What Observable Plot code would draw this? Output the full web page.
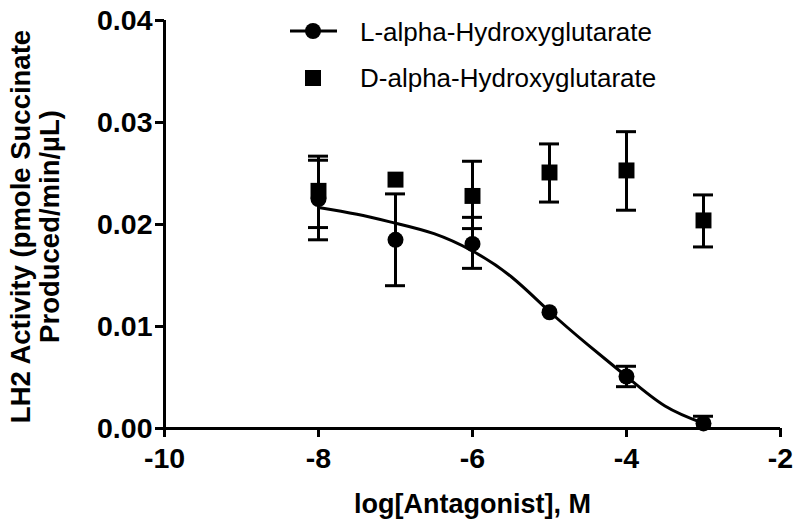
<!DOCTYPE html>
<html>
<head>
<meta charset="utf-8">
<script src="https://cdn.jsdelivr.net/npm/d3@7"></script>
<script src="https://cdn.jsdelivr.net/npm/@observablehq/plot@0.6"></script>
<style>
  html, body { margin: 0; padding: 0; background: #fff; }
  #wrap { position: relative; width: 800px; height: 529px; font-family: Arial, "Liberation Sans", sans-serif; }
  #legend { position: absolute; left: 0; top: 0; pointer-events: none; }
</style>
</head>
<body>
<div id="wrap"></div>
<script>
// ---- data ----
const doses = [-8, -7, -6, -5, -4, -3];

// L-alpha-Hydroxyglutarate: mean and error-bar ends (null = bar hidden behind the marker)
const lMean = [0.0225, 0.0185, 0.0181, 0.0114, 0.0051, 0.0005];
const lLow  = [0.0185, 0.0140, 0.0157, null,   0.0041, 0.0000];
const lHigh = [0.0263, 0.0230, 0.0207, null,   0.0061, 0.0012];

// D-alpha-Hydroxyglutarate
const dMean = [0.0233, 0.0244, 0.0228, 0.0251, 0.0253, 0.0204];
const dLow  = [0.0197, null,   0.0196, 0.0222, 0.0214, 0.0178];
const dHigh = [0.0267, null,   0.0262, 0.0279, 0.0291, 0.0229];

// fitted curve for L-alpha-Hydroxyglutarate
const fitX = [-8, -7.5, -7, -6.5, -6, -5.5, -5, -4.5, -4, -3.5, -3];
const fitY = [0.02167, 0.0210, 0.02013, 0.0191, 0.0174, 0.0149, 0.01147, 0.0082, 0.0051, 0.0022, 0.0005];

const xTicks = [-10, -8, -6, -4, -2];
const yTicks = [0, 0.01, 0.02, 0.03, 0.04];

const seriesNames = ["L-alpha-Hydroxyglutarate", "D-alpha-Hydroxyglutarate"];
const xTitle = "log[Antagonist], M";
const yTitle = "LH2 Activity (pmole Succinate\nProduced/min/\u00B5L)";

// ---- build tables ----
const L = doses.map((x, i) => ({x, y: lMean[i], lo: lLow[i], hi: lHigh[i]}));
const D = doses.map((x, i) => ({x, y: dMean[i], lo: dLow[i], hi: dHigh[i]}));
const Lerr = L.filter(d => d.lo != null);
const Derr = D.filter(d => d.lo != null);
const fit = fitX.map((x, i) => ({x, y: fitY[i]}));
const cap = 0.13; // half cap width in x units

const font = 'Arial, "Liberation Sans", sans-serif';

const chart = Plot.plot({
  width: 800,
  height: 529,
  marginLeft: 164,
  marginRight: 20,
  marginTop: 20,
  marginBottom: 101,
  x: {domain: [-10, -2]},
  y: {domain: [0, 0.04]},
  style: {fontFamily: font, background: "#fff", color: "#000", overflow: "visible"},
  marks: [
    Plot.axisY({ticks: yTicks, tickFormat: d3.format(".2f"), tickSize: 9, tickPadding: 3,
      fontSize: 28.5, fontWeight: "bold", strokeWidth: 3, label: null}),
    Plot.axisX({ticks: xTicks, tickFormat: d => String(d), tickSize: 9, tickPadding: 10,
      fontSize: 28.5, fontWeight: "bold", strokeWidth: 3, label: null}),
    Plot.ruleX([-10], {strokeWidth: 3}),
    Plot.ruleY([0], {strokeWidth: 3}),
    Plot.text([xTitle], {frameAnchor: "bottom", dy: 76, fontSize: 27, fontWeight: "bold", lineAnchor: "middle"}),
    Plot.text([yTitle], {frameAnchor: "left", dx: -129, dy: 2, rotate: -90, fontSize: 27.5, fontWeight: "bold",
      lineAnchor: "middle", textAnchor: "middle", lineHeight: 1.05}),
    // fitted curve
    Plot.line(fit, {x: "x", y: "y", curve: "natural", strokeWidth: 3, stroke: "#000"}),
    // error bars
    Plot.ruleX(Derr, {x: "x", y1: "lo", y2: "hi", strokeWidth: 3}),
    Plot.ruleY(Derr, {y: "lo", x1: d => d.x - cap, x2: d => d.x + cap, strokeWidth: 3}),
    Plot.ruleY(Derr, {y: "hi", x1: d => d.x - cap, x2: d => d.x + cap, strokeWidth: 3}),
    Plot.ruleX(Lerr, {x: "x", y1: "lo", y2: "hi", strokeWidth: 3}),
    Plot.ruleY(Lerr, {y: "lo", x1: d => d.x - cap, x2: d => d.x + cap, strokeWidth: 3}),
    Plot.ruleY(Lerr, {y: "hi", x1: d => d.x - cap, x2: d => d.x + cap, strokeWidth: 3}),
    // points
    Plot.dot(D, {x: "x", y: "y", symbol: "square", r: 9, fill: "#000", stroke: "none"}),
    Plot.dot(L, {x: "x", y: "y", symbol: "circle", r: 8, fill: "#000", stroke: "none"})
  ]
});

const wrap = document.getElementById("wrap");
wrap.appendChild(chart);

// legend overlay
const legend = document.createElementNS("http://www.w3.org/2000/svg", "svg");
legend.setAttribute("id", "legend");
legend.setAttribute("width", 800);
legend.setAttribute("height", 110);
legend.innerHTML = `
  <line x1="290" y1="31" x2="337" y2="31" stroke="#000" stroke-width="3"/>
  <circle cx="313" cy="31" r="8" fill="#000"/>
  <text x="360" y="41" font-size="26" font-family='${font}' fill="#000">${seriesNames[0]}</text>
  <rect x="305" y="70" width="16" height="16" fill="#000"/>
  <text x="360" y="87" font-size="26" font-family='${font}' fill="#000">${seriesNames[1]}</text>
`;
wrap.appendChild(legend);
</script>
</body>
</html>
